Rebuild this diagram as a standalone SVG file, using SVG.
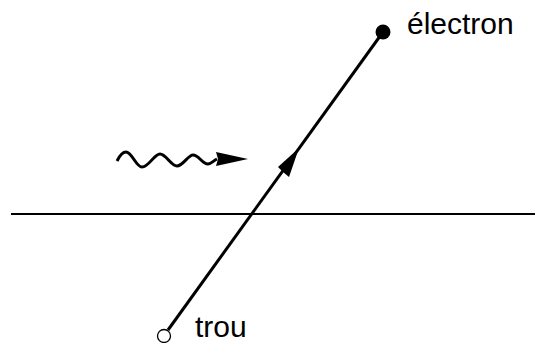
<svg xmlns="http://www.w3.org/2000/svg" width="535" height="343" viewBox="0 0 535 343">
<style>
.ln{stroke:#000;stroke-width:3;fill:none}
.lbl{font-family:"Liberation Sans",Arial,sans-serif;font-size:30px;fill:#000}
</style>
<rect width="535" height="343" fill="#fff"/>
<g id="connectors">
<line x1="11" y1="214" x2="535" y2="214" stroke="#000" stroke-width="2.2"/>
<line class="ln" x1="168" y1="330" x2="383" y2="32"/>
<polygon points="299,148 278,167 283,172 289,177" fill="#000"/>
<path class="ln" stroke-width="2.8" d="M117,161 C120,155 123,152 126,152 C132,152 136,167 142,167 C149,167 154,154 160,154 C166,154 171,166 177,166 C183,166 188,155 193,155 C199,155 202,164 208,164 C211,164 213,161 217,159"/>
<polygon points="248,159 216,152 218,159 216,166" fill="#000"/>
</g>
<g id="electron">
<circle cx="383" cy="32" r="7.5" fill="#000"/>
<text class="lbl" x="407" y="34">électron</text>
</g>
<g id="trou">
<circle cx="164" cy="336" r="6.5" fill="#fff" stroke="#000" stroke-width="1.3"/>
<text class="lbl" x="195" y="337">trou</text>
</g>
</svg>
